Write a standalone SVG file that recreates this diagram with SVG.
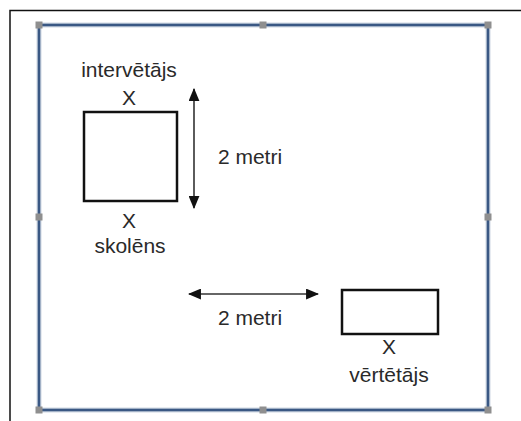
<svg xmlns="http://www.w3.org/2000/svg" width="521" height="421" viewBox="0 0 521 421">
  <style>
    .lbl { font-family: "Liberation Sans", Arial, sans-serif; font-size: 21px; fill: #2a2a2a; text-anchor: middle; }
    .box { fill: #fff; stroke: #111; stroke-width: 2.5; }
    .handle { fill: #8f8f8f; }
    .dim { stroke: #333; stroke-width: 1.6; fill: none; }
  </style>
  <defs>
    <marker id="head" viewBox="0 0 12 10" refX="11" refY="5" markerWidth="13" markerHeight="11" markerUnits="userSpaceOnUse" orient="auto-start-reverse">
      <path d="M0,0 L12,5 L0,10 Z" fill="#111"/>
    </marker>
  </defs>
  <rect width="521" height="421" fill="#fff"/>
  <!-- page frame -->
  <path d="M10,421 V10.5 H521" fill="none" stroke="#111" stroke-width="1.5"/>
  <!-- room outline with selection handles -->
  <g id="room">
    <rect x="39" y="25" width="449" height="385" fill="none" stroke="#cfd8e3" stroke-width="5"/>
    <rect x="39" y="25" width="449" height="385" fill="none" stroke="#3a5884" stroke-width="2.6"/>
    <rect class="handle" x="35.5" y="21.5" width="7" height="7"/>
    <rect class="handle" x="259.5" y="21.5" width="7" height="7"/>
    <rect class="handle" x="484.5" y="21.5" width="7" height="7"/>
    <rect class="handle" x="35.5" y="213.5" width="7" height="7"/>
    <rect class="handle" x="484.5" y="213.5" width="7" height="7"/>
    <rect class="handle" x="35.5" y="406.5" width="7" height="7"/>
    <rect class="handle" x="259.5" y="406.5" width="7" height="7"/>
    <rect class="handle" x="484.5" y="406.5" width="7" height="7"/>
  </g>
  <g id="table">
    <rect class="box" x="84" y="112" width="93" height="89"/>
  </g>
  <g id="interviewer">
    <text class="lbl" x="129" y="77">intervētājs</text>
    <text class="lbl" x="129" y="105">X</text>
  </g>
  <g id="student">
    <text class="lbl" x="129" y="228">X</text>
    <text class="lbl" x="130" y="253">skolēns</text>
  </g>
  <g id="assessor-table">
    <rect class="box" x="342" y="290" width="96" height="44"/>
  </g>
  <g id="assessor">
    <text class="lbl" x="389" y="354">X</text>
    <text class="lbl" x="389" y="382">vērtētājs</text>
  </g>
  <g id="connectors">
    <line class="dim" x1="194" y1="89" x2="194" y2="208" marker-start="url(#head)" marker-end="url(#head)"/>
    <line class="dim" x1="189" y1="294" x2="318" y2="294" marker-start="url(#head)" marker-end="url(#head)" stroke="#111"/>
  </g>
  <text class="lbl" x="250" y="164">2 metri</text>
  <text class="lbl" x="250" y="325">2 metri</text>
</svg>
